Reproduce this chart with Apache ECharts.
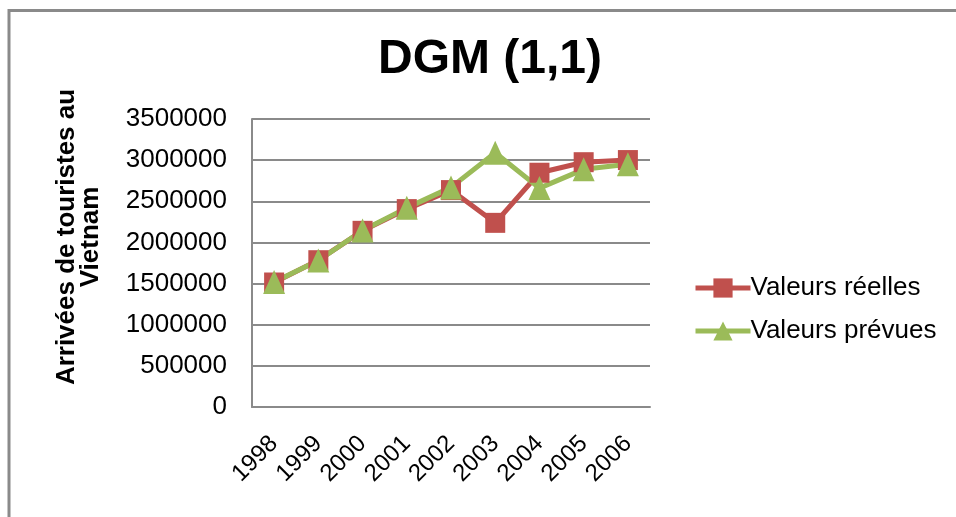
<!DOCTYPE html>
<html lang="fr">
<head>
  <meta charset="UTF-8">
  <title>DGM (1,1)</title>
  <script src="https://cdn.jsdelivr.net/npm/echarts@6/dist/echarts.min.js"></script>
  <style>
    html, body { margin: 0; padding: 0; background: #fff; }
    #main { width: 956px; height: 517px; }
  </style>
</head>
<body>
<div id="main"></div>
<script>
  // données
  var annees = ['1998', '1999', '2000', '2001', '2002', '2003', '2004', '2005', '2006'];
  var valeursReelles = [1513000, 1784000, 2141000, 2405000, 2636000, 2238000, 2847000, 2975000, 3001000];
  var valeursPrevues = [1520000, 1780000, 2145000, 2420000, 2669000, 3090000, 2660000, 2888000, 2949000];
  var titreAxeY = 'Arrivées de touristes au\nVietnam';

  var myChart = echarts.init(document.getElementById('main'));
  var font = 'Liberation Sans, Arial, sans-serif';

  var option = {
    animation: false,
    textStyle: { fontFamily: font },
    title: {
      text: 'DGM (1,1)',
      left: 485,
      top: 31,
      textAlign: 'center',
      textStyle: { fontSize: 48, fontWeight: 'bold', color: '#000', fontFamily: font }
    },
    graphic: [
      {
        type: 'rect',
        shape: { x: 9, y: 10.5, width: 1000, height: 600 },
        style: { fill: 'none', stroke: '#8a8a8a', lineWidth: 3 },
        silent: true
      },
      {
        // titre de l'axe vertical
        type: 'text',
        x: 79,
        y: 237,
        rotation: Math.PI / 2,
        style: {
          text: titreAxeY,
          fontSize: 26,
          fontWeight: 'bold',
          fontFamily: font,
          fill: '#000',
          lineHeight: 24,
          align: 'center',
          verticalAlign: 'middle'
        },
        silent: true
      }
    ],
    legend: {
      orient: 'vertical',
      left: 688,
      top: 270,
      itemGap: 17,
      itemWidth: 55,
      itemHeight: 24,
      textStyle: { fontSize: 26, color: '#000', fontFamily: font, padding: [0, 0, 0, -5] },
      data: [
        { name: 'Valeurs réelles', lineStyle: { width: 5 } },
        { name: 'Valeurs prévues', lineStyle: { width: 5 } }
      ]
    },
    grid: { left: 252, top: 119, width: 398, height: 288, containLabel: false },
    xAxis: {
      type: 'category',
      data: annees,
      boundaryGap: true,
      axisLine: { lineStyle: { color: '#8a8a8a', width: 2 } },
      axisTick: { show: false },
      axisLabel: { rotate: 45, fontSize: 24, color: '#000', margin: 33, fontFamily: font }
    },
    yAxis: {
      type: 'value',
      min: 0,
      max: 3500000,
      interval: 500000,
      axisLine: { show: true, lineStyle: { color: '#8a8a8a', width: 2 } },
      axisTick: { show: false },
      axisLabel: {
        fontSize: 26, color: '#000', margin: 25, fontFamily: font,
        formatter: function (v) { return String(v); }
      },
      splitLine: { lineStyle: { color: '#8a8a8a', width: 2 } }
    },
    series: [
      {
        name: 'Valeurs réelles',
        type: 'line',
        data: valeursReelles,
        symbol: 'rect',
        symbolSize: 20,
        color: '#C0504D',
        lineStyle: { width: 5, color: '#C0504D' },
        itemStyle: { color: '#C0504D' }
      },
      {
        name: 'Valeurs prévues',
        type: 'line',
        data: valeursPrevues,
        symbol: 'triangle',
        symbolSize: [22, 24],
        color: '#9BBB59',
        lineStyle: { width: 5, color: '#9BBB59' },
        itemStyle: { color: '#9BBB59' }
      }
    ]
  };
  myChart.setOption(option);
</script>
</body>
</html>
